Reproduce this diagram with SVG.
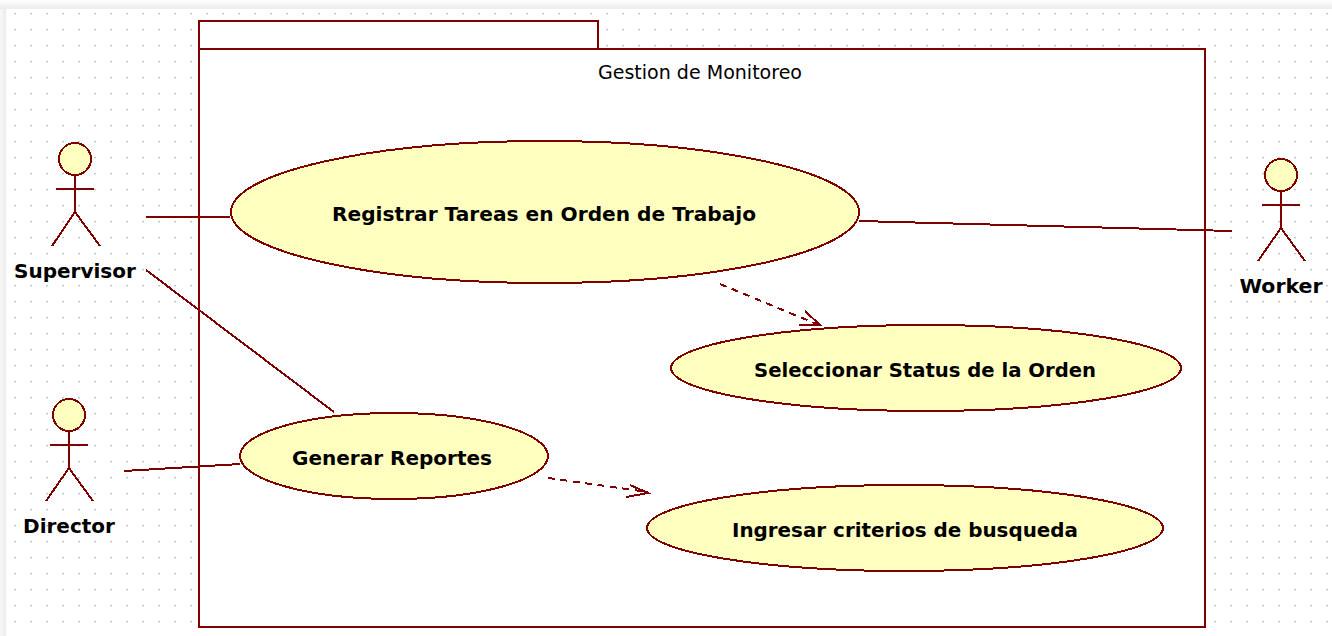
<svg xmlns="http://www.w3.org/2000/svg" width="1332" height="636" viewBox="0 0 1332 636">
<style>
.s,.u,.c,.d,.a,.f{shape-rendering:crispEdges}
.s{fill:none;stroke:#800000;stroke-width:2}
.f{fill:#fff;stroke:#800000;stroke-width:2}
.u{fill:#ffffc0;stroke:#800000;stroke-width:2}
.c{fill:none;stroke:#800000;stroke-width:2}
.d{fill:none;stroke:#800000;stroke-width:2;stroke-dasharray:7 5.5}
.a{fill:none;stroke:#800000;stroke-width:2}
.t{font-family:"DejaVu Sans",sans-serif;font-weight:bold;font-size:20px;fill:#000;text-anchor:middle}
.p{font-family:"DejaVu Sans",sans-serif;font-size:18.6px;fill:#000;text-anchor:middle}
</style>
<defs>
<pattern id="dots" x="14" y="13" width="16" height="16" patternUnits="userSpaceOnUse"><rect width="2" height="1.4" fill="#c4c4c4"/></pattern>
<linearGradient id="gt" x1="0" y1="0" x2="0" y2="1"><stop offset="0" stop-color="#ffffff"/><stop offset="1" stop-color="#ececec"/></linearGradient>
<linearGradient id="gl" x1="0" y1="0" x2="1" y2="0"><stop offset="0" stop-color="#f8f8f8"/><stop offset="1" stop-color="#ececec"/></linearGradient>
</defs>
<rect width="1332" height="636" fill="#fff"/>
<rect x="6" y="9" width="1326" height="627" fill="url(#dots)"/>
<rect width="1332" height="9" fill="url(#gt)"/>
<rect y="9" width="6" height="627" fill="url(#gl)"/>
<g id="package">
<rect x="199" y="21" width="399" height="28" class="f"/>
<rect x="199" y="49" width="1006" height="578" class="f"/>
<text class="p" x="700" y="79" textLength="204" lengthAdjust="spacingAndGlyphs">Gestion de Monitoreo</text>
</g>
<g id="connectors">
<path class="c" d="M146 217H230"/>
<path class="c" d="M859 221L1232 231"/>
<path class="c" d="M146 270L334 412"/>
<path class="c" d="M124 471L240 464"/>
<path class="d" d="M720 284L819 325"/>
<path class="a" d="M805 311L820 325H799"/>
<path class="d" d="M548 478L648 492"/>
<path class="a" d="M630 485L648 493L626 497"/>
</g>
<g id="uc-registrar"><ellipse class="u" cx="545" cy="212" rx="314" ry="71"/><text class="t" x="544" y="221" textLength="424" lengthAdjust="spacingAndGlyphs">Registrar Tareas en Orden de Trabajo</text></g>
<g id="uc-seleccionar"><ellipse class="u" cx="926" cy="368" rx="255" ry="43"/><text class="t" x="925" y="377" textLength="342" lengthAdjust="spacingAndGlyphs">Seleccionar Status de la Orden</text></g>
<g id="uc-generar"><ellipse class="u" cx="394" cy="456" rx="154" ry="43"/><text class="t" x="392" y="465" textLength="200" lengthAdjust="spacingAndGlyphs">Generar Reportes</text></g>
<g id="uc-ingresar"><ellipse class="u" cx="905" cy="528" rx="258" ry="43"/><text class="t" x="905" y="537" textLength="346" lengthAdjust="spacingAndGlyphs">Ingresar criterios de busqueda</text></g>
<g id="actor-supervisor"><circle class="u" cx="75" cy="159" r="16"/><path class="s" d="M75 175V212M56 189H94"/><path class="c" d="M75 212L52 246M75 212L100 246"/><text class="t" x="75" y="278">Supervisor</text></g>
<g id="actor-director"><circle class="u" cx="69" cy="415" r="16"/><path class="s" d="M69 431V468M50 445H88"/><path class="c" d="M69 468L46 501M69 468L93 501"/><text class="t" x="69" y="533">Director</text></g>
<g id="actor-worker"><circle class="u" cx="1281" cy="175" r="16"/><path class="s" d="M1281 191V228M1262 205H1300"/><path class="c" d="M1281 228L1258 261M1281 228L1305 261"/><text class="t" x="1281" y="293" textLength="83" lengthAdjust="spacingAndGlyphs">Worker</text></g>
</svg>
